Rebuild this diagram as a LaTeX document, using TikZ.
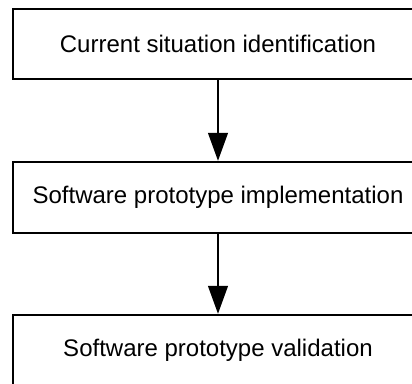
\documentclass[tikz,border=0pt]{standalone}
\usepackage{fontspec}
\setmainfont{Liberation Sans}
\usetikzlibrary{arrows.meta}
\begin{document}
\begin{tikzpicture}[x=1pt,y=1pt,
  stepbox/.style={draw=black, line width=1.3pt, fill=white,
    minimum width=410pt, minimum height=70pt, inner sep=0pt,
    font=\fontsize{24}{28}\selectfont},
  flow/.style={line width=1.3pt,
    -{Triangle[length=28pt,width=20pt]}, shorten >=0.6pt}]
  \useasboundingbox (0,0) rectangle (412,-383);
  \clip (0,0) rectangle (412,-383);
  \node[stepbox] (s1) at (218,-44) {Current situation identification};
  \node[stepbox, minimum height=71pt] (s2) at (218,-197.5) {Software prototype implementation};
  \node[stepbox] (s3) at (218,-350) {Software prototype validation};
  \draw[flow] (s1) -- (s2);
  \draw[flow] (s2) -- (s3);
\end{tikzpicture}
\end{document}
